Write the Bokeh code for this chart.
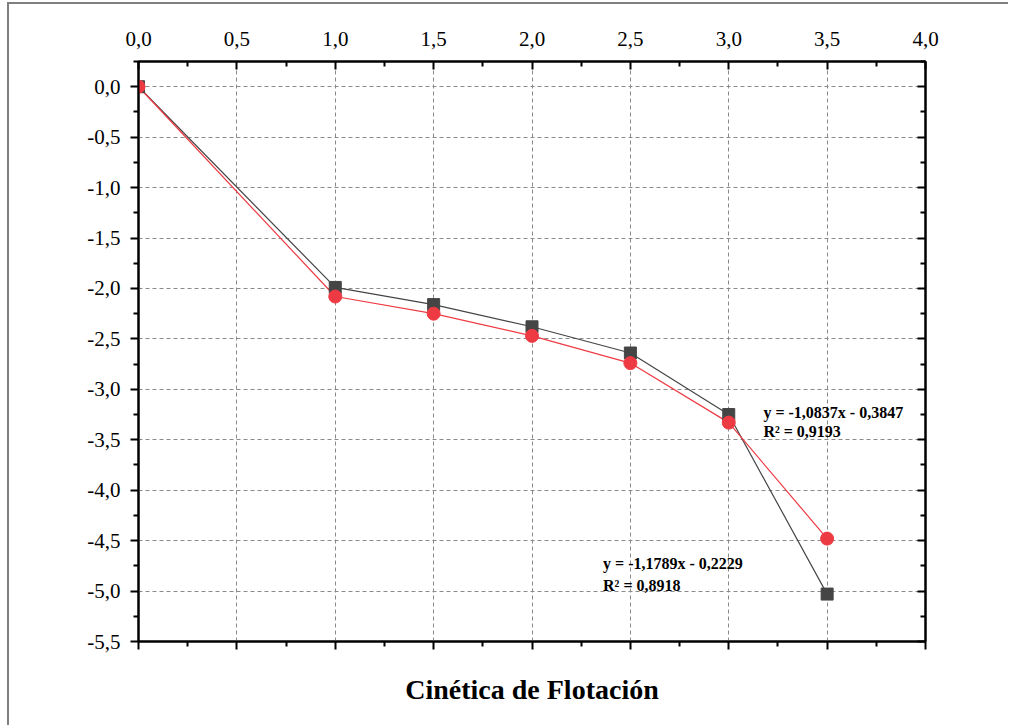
from bokeh.plotting import figure
from bokeh.models import LinearAxis, FixedTicker, Range1d, Label
from bokeh.embed import file_html
from bokeh.resources import INLINE

# ---- data ----
x_vals = [0.0, 1.0, 1.5, 2.0, 2.5, 3.0, 3.5]
black_y = [0.0, -1.99, -2.16, -2.38, -2.64, -3.25, -5.03]
red_y = [0.0, -2.08, -2.25, -2.47, -2.74, -3.33, -4.48]

x_ticks = [0.0, 0.5, 1.0, 1.5, 2.0, 2.5, 3.0, 3.5, 4.0]
x_tick_labels = ["0,0", "0,5", "1,0", "1,5", "2,0", "2,5", "3,0", "3,5", "4,0"]
y_ticks = [0.0, -0.5, -1.0, -1.5, -2.0, -2.5, -3.0, -3.5, -4.0, -4.5, -5.0, -5.5]
y_tick_labels = ["0,0", "-0,5", "-1,0", "-1,5", "-2,0", "-2,5", "-3,0", "-3,5",
                 "-4,0", "-4,5", "-5,0", "-5,5"]
x_minor = [0.25, 0.75, 1.25, 1.75, 2.25, 2.75, 3.25, 3.75]
y_minor = [0.25, -0.25, -0.75, -1.25, -1.75, -2.25, -2.75, -3.25, -3.75, -4.25, -4.75, -5.25]

eq1 = ["y = -1,0837x - 0,3847", "R\u00b2 = 0,9193"]
eq2 = ["y = -1,1789x - 0,2229", "R\u00b2 = 0,8918"]
x_title = "Cinética de Flotación"

FONT = "Liberation Serif"
BLACK = "#454545"
RED = "#ee3a43"

p = figure(width=1001, height=723, output_backend="svg", toolbar_location=None,
           x_range=Range1d(0, 4.0), y_range=Range1d(-5.5, 0.25),
           x_axis_location="above", y_axis_location="left",
           min_border_left=129, min_border_top=57, min_border_right=85,
           min_border_bottom=86, outline_line_color="black", outline_line_width=2,
           background_fill_color="white", border_fill_color="white")
p.styles = {"border-left": "2px solid #7f7f7f", "border-top": "2px solid #7f7f7f",
            "margin-left": "7px", "margin-top": "2px"}

xt = FixedTicker(ticks=x_ticks, minor_ticks=x_minor)
yt = FixedTicker(ticks=y_ticks, minor_ticks=y_minor)
xo = dict(zip(x_ticks, x_tick_labels))
yo = dict(zip(y_ticks, y_tick_labels))
blank_x = {t: "" for t in x_ticks}
blank_y = {t: "" for t in y_ticks}

def style_axis(ax, tin, tout):
    ax.axis_line_width = 2
    ax.axis_line_color = "black"
    ax.major_tick_line_width = 2
    ax.minor_tick_line_width = 2
    ax.major_tick_line_color = "black"
    ax.minor_tick_line_color = "black"
    ax.major_tick_in = tin
    ax.major_tick_out = tout
    ax.minor_tick_in = 5 if tin else 0
    ax.minor_tick_out = 5 if tout else 0
    ax.major_label_text_font = FONT
    ax.major_label_text_font_size = "21px"
    ax.major_label_text_color = "black"

# top axis
top = p.xaxis[0]
top.ticker = xt
top.major_label_overrides = xo
style_axis(top, 8, 0)
top.major_label_standoff = 16

# left axis
left = p.yaxis[0]
left.ticker = yt
left.major_label_overrides = yo
style_axis(left, 0, 8)
left.major_label_standoff = 10

# bottom axis
bottom = LinearAxis(ticker=xt, axis_label=x_title, major_label_overrides=blank_x)
style_axis(bottom, 0, 8)
bottom.axis_label_text_font = FONT
bottom.axis_label_text_font_size = "28px"
bottom.axis_label_text_font_style = "bold"
bottom.axis_label_text_color = "black"
bottom.axis_label_standoff = 24
p.add_layout(bottom, "below")

# right axis
right = LinearAxis(ticker=yt, major_label_overrides=blank_y)
style_axis(right, 8, 0)
p.add_layout(right, "right")

p.xgrid.ticker = xt
p.ygrid.ticker = yt
for g in (p.xgrid[0], p.ygrid[0]):
    g.grid_line_color = "#8a8a8a"
    g.grid_line_dash = "4 3"
    g.grid_line_width = 1

# series
p.line(x_vals, black_y, line_color=BLACK, line_width=1.2)
p.line(x_vals, red_y, line_color=RED, line_width=1.2)
p.scatter(x_vals, black_y, marker="square", size=12, fill_color=BLACK, line_color=BLACK)
p.scatter(x_vals, red_y, marker="circle", size=13, fill_color=RED, line_color=RED)

# equations
lab_kw = dict(text_font=FONT, text_font_size="16px", text_font_style="bold",
              text_color="black", text_baseline="alphabetic")
p.add_layout(Label(x=3.176, y=-3.231, text=eq1[0], **lab_kw))
p.add_layout(Label(x=3.176, y=-3.419, text=eq1[1], **lab_kw))
p.add_layout(Label(x=2.361, y=-4.727, text=eq2[0], **lab_kw))
p.add_layout(Label(x=2.361, y=-4.945, text=eq2[1], **lab_kw))

p.toolbar.logo = None
open("out.html", "w").write(file_html(p, INLINE))
